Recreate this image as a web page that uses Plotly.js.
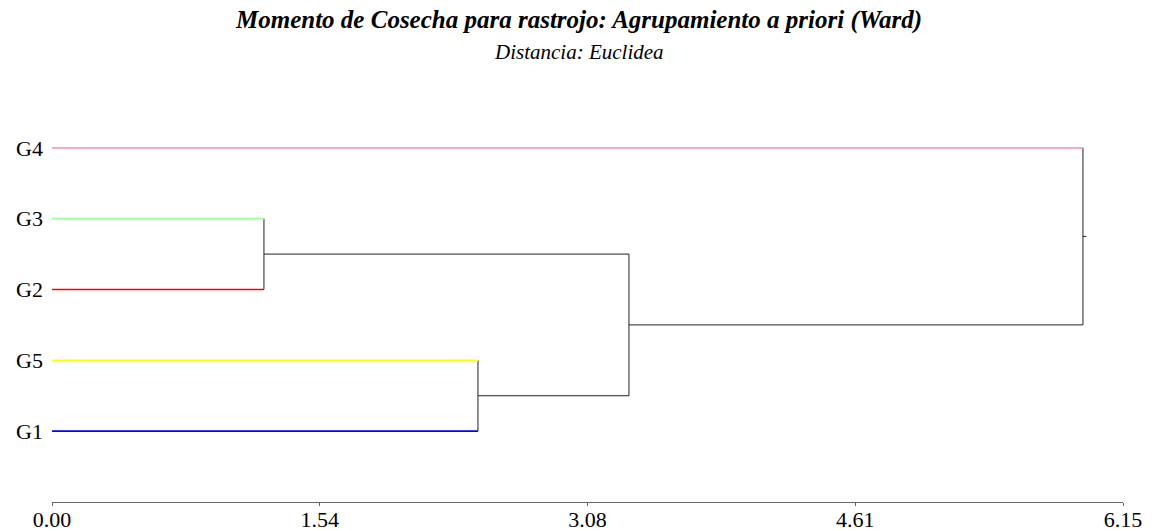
<!DOCTYPE html>
<html>
<head>
<meta charset="utf-8">
<script src="https://cdn.plot.ly/plotly-3.0.1.min.js"></script>
<style>html,body{margin:0;padding:0;background:#fff;}#chart{width:1154px;height:531px;}</style>
</head>
<body>
<div id="chart"></div>
<script>
// Leaves (original cluster ids 0..4)
const leafNames = ['G1', 'G2', 'G3', 'G4', 'G5'];
const leafColors = ['#0000ff', '#ff0000', '#99ff99', '#ff99cc', '#ffff00'];
// Display order, bottom to top
const leafOrder = ['G1', 'G5', 'G2', 'G3', 'G4'];
// Linkage: [childA, childB, height]; new cluster ids start at 5
const linkA = [1, 0, 5, 3];
const linkB = [2, 4, 6, 7];
const linkHeight = [1.217, 2.446, 3.313, 5.92];
const rootStub = 0.02;
// Axis ticks
const tickValues = [0, 1.5375, 3.075, 4.6125, 6.15];
const tickLabels = ['0.00', '1.54', '3.08', '4.61', '6.15'];
const titleText = 'Momento de Cosecha para rastrojo: Agrupamiento a priori (Ward)';
const subtitleText = 'Distancia: Euclidea';

const n = leafNames.length;
const ypos = {};
const parentHeight = {};
leafNames.forEach((nm, i) => { ypos[i] = leafOrder.indexOf(nm) + 1; });
linkHeight.forEach((h, k) => {
  const id = n + k;
  const a = linkA[k], b = linkB[k];
  ypos[id] = (ypos[a] + ypos[b]) / 2;
  parentHeight[a] = h;
  parentHeight[b] = h;
});
const rootId = n + linkHeight.length - 1;
parentHeight[rootId] = linkHeight[linkHeight.length - 1] + rootStub;

const traces = [];
// internal branches (drawn first, leaves on top)
const bx = [], by = [];
linkHeight.forEach((h, k) => {
  const id = n + k;
  const a = linkA[k], b = linkB[k];
  bx.push(h, h, null); by.push(ypos[a], ypos[b], null);
  bx.push(h, parentHeight[id], null); by.push(ypos[id], ypos[id], null);
});
traces.push({
  x: bx, y: by, mode: 'lines', line: {color: '#222222', width: 1},
  hoverinfo: 'skip', showlegend: false, type: 'scatter', connectgaps: false
});
// leaf branches
leafNames.forEach((nm, i) => {
  traces.push({
    x: [0, parentHeight[i]], y: [ypos[i], ypos[i]],
    mode: 'lines', line: {color: leafColors[i], width: 1.6},
    hoverinfo: 'skip', showlegend: false, type: 'scatter', name: nm
  });
});

const layout = {
  width: 1154, height: 531,
  paper_bgcolor: '#ffffff', plot_bgcolor: '#ffffff',
  margin: {l: 52, r: 31, t: 77, b: 29},
  font: {family: '"Liberation Serif", "Times New Roman", serif', color: '#000000', size: 22},
  annotations: [
    {text: '<b><i>' + titleText + '</i></b>', xref: 'paper', yref: 'paper', x: 0.492, y: 1.134,
     xanchor: 'center', yanchor: 'middle', showarrow: false,
     font: {family: '"Liberation Serif", serif', size: 25, color: '#000000'}},
    {text: '<i>' + subtitleText + '</i>', xref: 'paper', yref: 'paper', x: 0.492, y: 1.059,
     xanchor: 'center', yanchor: 'middle', showarrow: false,
     font: {family: '"Liberation Serif", serif', size: 21, color: '#000000'}}
  ],
  xaxis: {
    range: [0, 6.15], tickvals: tickValues, ticktext: tickLabels,
    showgrid: false, zeroline: false, showline: true, linecolor: '#666666', linewidth: 1,
    ticks: 'outside', ticklen: 3, tickcolor: '#666666',
    ticklabelstandoff: -5,
    tickfont: {size: 22}, fixedrange: true
  },
  yaxis: {
    range: [0, 6], tickvals: leafOrder.map((_, i) => i + 1), ticktext: leafOrder,
    showgrid: false, zeroline: false, showline: false, ticks: '',
    ticklabelstandoff: 8, tickfont: {size: 22}, fixedrange: true
  }
};

Plotly.newPlot('chart', traces, layout, {displayModeBar: false, staticPlot: true});
</script>
</body>
</html>
